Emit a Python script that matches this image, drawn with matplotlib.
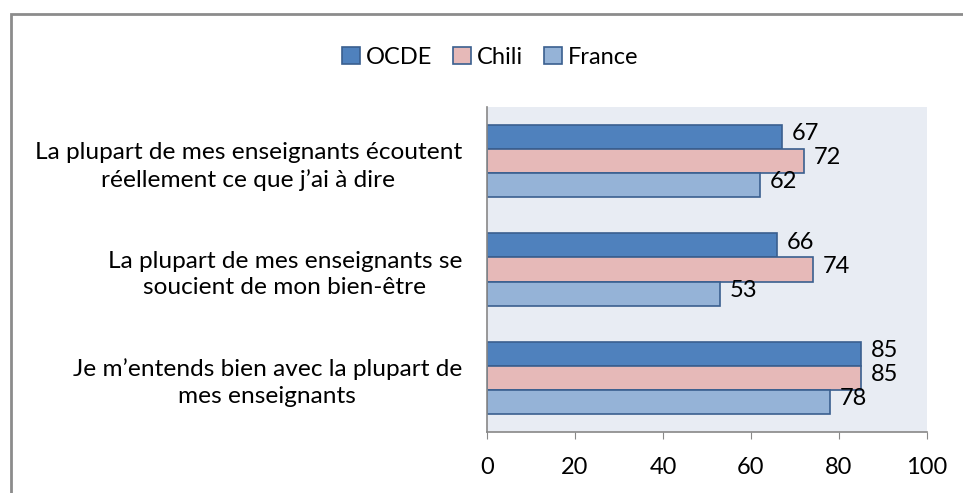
import numpy as np
import matplotlib.pyplot as plt
from matplotlib.patches import Rectangle

plt.rcParams['font.family'] = ['Lato', 'DejaVu Sans']

categories = [
    "La plupart de mes enseignants écoutent\nréellement ce que j’ai à dire",
    "La plupart de mes enseignants se\nsoucient de mon bien-être",
    "Je m’entends bien avec la plupart de\nmes enseignants",
]
series_names = ["OCDE", "Chili", "France"]
ocde = [67, 66, 85]
chili = [72, 74, 85]
france = [62, 53, 78]
colors = ["#4F81BD", "#E6B9B8", "#95B3D7"]
edge = "#3A5F8F"
fs = 17

fig = plt.figure(figsize=(9.63, 4.93), dpi=100)
ax = fig.add_axes([487 / 963, 1 - 432 / 493, 440 / 963, 325 / 493])
ax.set_facecolor("#E8ECF3")

y = np.arange(len(categories))
h = 0.222
for i, (name, vals) in enumerate(zip(series_names, [ocde, chili, france])):
    pos = y + (i - 1) * h
    ax.barh(pos, vals, height=h, color=colors[i], edgecolor=edge,
            linewidth=1.2, label=name)
    for p, v in zip(pos, vals):
        ax.text(v + 2.2, p - 0.03, str(v), va="center", ha="left", fontsize=fs)

ax.set_ylim(2.5, -0.5)
ax.set_xlim(0, 100)
ax.set_xticks([0, 20, 40, 60, 80, 100])
ax.set_yticks(y)
ax.set_yticklabels(categories, fontsize=17.6, multialignment="center",
                   linespacing=1.35)
ax.tick_params(axis="y", length=0, pad=18)
ax.tick_params(axis="x", length=5, color="#888888", labelsize=fs, pad=13)
for s in ["top", "right"]:
    ax.spines[s].set_visible(False)
for s in ["left", "bottom"]:
    ax.spines[s].set_color("#888888")
    ax.spines[s].set_linewidth(1.2)

fig.legend(loc="center", bbox_to_anchor=(490 / 963, 1 - 57 / 493), ncol=3,
           frameon=False, fontsize=fs, handlelength=0.75, handleheight=0.75,
           handletextpad=0.25, columnspacing=0.9)

fig.patches.append(Rectangle((11 / 963, -0.1), 1.1, 1 - 14 / 493 + 0.1,
                             transform=fig.transFigure, fill=False,
                             edgecolor="#8C8C8C", linewidth=2))

fig.savefig("out.png", dpi=100)
